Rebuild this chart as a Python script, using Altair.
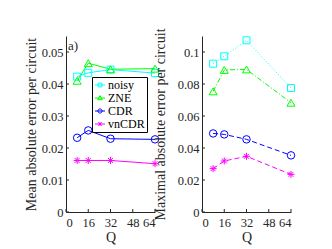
import altair as alt
import pandas as pd

Q = [8, 16, 32, 64]
series = ["noisy", "ZNE", "CDR", "vnCDR"]
colors = ["#00ffff", "#00ff00", "#0000ff", "#ff00ff"]

mean_noisy = [0.0423, 0.0435, 0.0445, 0.0434]
mean_zne = [0.0410, 0.0465, 0.0446, 0.0448]
mean_cdr = [0.0232, 0.0255, 0.0229, 0.0227]
mean_vncdr = [0.0161, 0.0161, 0.0161, 0.0151]

max_noisy = [0.0927, 0.0973, 0.1073, 0.0775]
max_zne = [0.0754, 0.0888, 0.0891, 0.0683]
max_cdr = [0.0491, 0.0485, 0.0454, 0.0354]
max_vncdr = [0.0271, 0.0319, 0.0348, 0.0235]

x_ticks = [0, 16, 32, 48, 64]
mean_ticks = [0, 0.01, 0.02, 0.03, 0.04, 0.05]
max_ticks = [0, 0.02, 0.04, 0.06, 0.08, 0.1]
panel_labels = ["a)"]


def long(vals):
    rows = []
    for s, v in zip(series, vals):
        for q, y in zip(Q, v):
            rows.append({"Q": q, "value": y, "series": s})
    return pd.DataFrame(rows)


df_mean = long([mean_noisy, mean_zne, mean_cdr, mean_vncdr])
df_max = long([max_noisy, max_zne, max_cdr, max_vncdr])

FONT = "'Liberation Serif', 'DejaVu Serif', serif"
INK = "#262626"
H = 176
W = 89

marker_shapes = {
    "noisy": ("square", 49),
    "ZNE": ("triangle-up", 64),
    "CDR": ("circle", 56),
    "vnCDR": ("M-1,0H1M0,-1V1M-0.7,-0.7L0.7,0.7M-0.7,0.7L0.7,-0.7", 49),
}
legend_paths = [
    "M-1,0H1M-0.38,-0.38H0.38V0.38H-0.38Z",
    "M-1,0H1M0,-0.48L0.47,0.34H-0.47Z",
    "M-1,0H1M0.42,0A0.42,0.42,0,1,1,-0.42,0A0.42,0.42,0,1,1,0.42,0",
    "M-1,0H1M0,-0.36V0.36M-0.34,-0.34L0.34,0.34M-0.34,0.34L0.34,-0.34",
]

cscale = alt.Scale(domain=series, range=colors)


def xenc():
    return alt.X(
        "Q:Q",
        scale=alt.Scale(domain=[0, 64], nice=False),
        axis=alt.Axis(values=x_ticks, title="Q", labelPadding=4, titlePadding=2, ticks=False),
    )


def yenc(top, ticks, title, tpad):
    return alt.Y(
        "value:Q",
        scale=alt.Scale(domain=[0, top], nice=False),
        axis=alt.Axis(
            values=ticks, format="~g", title=title, labelPadding=3,
            titlePadding=tpad, ticks=False,
        ),
    )


def panel(df, top, ticks, title, tpad, dashed, with_legend):
    base = alt.Chart(df)
    enc_line = dict(
        x=xenc(), y=yenc(top, ticks, title, tpad),
        color=alt.Color("series:N", scale=cscale, legend=None),
        order="Q:Q",
    )
    if dashed:
        enc_line["strokeDash"] = alt.StrokeDash(
            "series:N",
            scale=alt.Scale(domain=series, range=[[1, 2], [5, 2, 1, 2], [5, 3], [5, 3]]),
            legend=None,
        )
    layers = [base.mark_line(strokeWidth=1).encode(**enc_line)]
    for s in series:
        shp, sz = marker_shapes[s]
        layers.append(
            base.transform_filter(alt.datum.series == s)
            .mark_point(shape=shp, size=sz, filled=False, strokeWidth=1, opacity=1)
            .encode(
                x=xenc(), y=yenc(top, ticks, title, tpad),
                color=alt.Color("series:N", scale=cscale, legend=None),
            )
        )
    # inward tick marks, drawn from the tick lists through the scales
    layers.append(
        alt.Chart(pd.DataFrame({"value": ticks}))
        .mark_rule(color=INK, strokeWidth=1)
        .encode(y=yenc(top, ticks, title, tpad), x=alt.value(0), x2=alt.value(3))
    )
    layers.append(
        alt.Chart(pd.DataFrame({"Q": x_ticks}))
        .mark_rule(color=INK, strokeWidth=1)
        .encode(x=xenc(), y=alt.value(H), y2=alt.value(H - 3))
    )
    if with_legend:
        leg = alt.Legend(
            title=None, orient="none", legendX=26, legendY=41, padding=2,
            rowPadding=1, fillColor="white", strokeColor="black",
            labelFont=FONT, labelFontSize=12, labelColor="black",
            labelOffset=2, symbolStrokeWidth=1, symbolOpacity=1,
        )
        layers.append(
            base.transform_filter("false")
            .mark_point(size=324, filled=False, strokeWidth=1, opacity=1)
            .encode(
                x=xenc(), y=yenc(top, ticks, title, tpad),
                color=alt.Color("series:N", scale=cscale, legend=leg),
                shape=alt.Shape(
                    "series:N",
                    scale=alt.Scale(domain=series, range=legend_paths),
                    legend=leg,
                ),
            )
        )
        layers.append(
            alt.Chart(pd.DataFrame({"label": panel_labels}))
            .mark_text(font=FONT, fontSize=13, color=INK, align="left", baseline="middle")
            .encode(text="label:N", x=alt.value(2), y=alt.value(10))
        )
    return (
        alt.layer(*layers)
        .resolve_scale(color="independent", shape="independent")
        .properties(width=W, height=H)
    )


left = panel(df_mean, 0.055, mean_ticks, "Mean absolute error per circuit", 3, False, True)
right = panel(df_max, 0.11, max_ticks, "Maximal absolute error per circuit", 10, True, False)

chart = (
    alt.hconcat(left, right, spacing=47, bounds="flush")
    .properties(padding={"left": 16, "top": 19, "right": 5, "bottom": 5})
    .resolve_scale(color="independent", shape="independent")
    .configure_view(stroke=None)
    .configure_axis(
        labelFont=FONT, labelFontSize=12.5, labelColor=INK,
        titleFont=FONT, titleFontSize=14, titleFontWeight="normal", titleColor=INK,
        domainColor=INK, domainWidth=1, grid=False,
    )
)

chart.save("out.html", embed_options={"renderer": "svg", "actions": False})
